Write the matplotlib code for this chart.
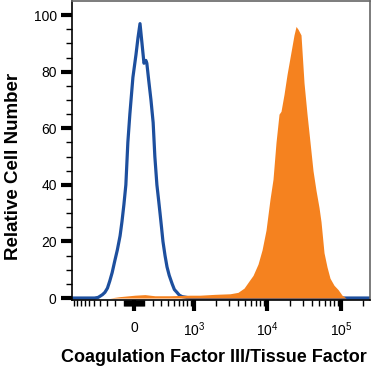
import numpy as np
import matplotlib
matplotlib.use("Agg")
import matplotlib.pyplot as plt

plt.rcParams['font.family'] = ['Liberation Sans', 'DejaVu Sans']
plt.rcParams['mathtext.fontset'] = 'custom'
plt.rcParams['mathtext.rm'] = 'Liberation Sans'

# isotype control (blue outline), intensity vs relative cell number
blue_x = [-1060, -490, -430, -400, -360, -325, -290, -260, -230, -200, -170, -140, -120,
          -100, -80, -60, -40, -10, 20, 40, 60, 80, 100, 120, 130, 150, 175, 200, 220,
          245, 265, 285, 305, 325, 355, 385, 420, 470, 510, 560, 610, 670, 880, 245000]
blue_y = [0, 0, 0.2, 0.6, 1.2, 2, 3.5, 6, 9, 13, 17, 22, 27,
          33, 40, 55, 65, 78, 86, 92, 97, 90, 83, 84, 83, 77, 70, 62, 50,
          40, 35, 30, 25, 20, 15, 11, 8, 5, 3, 2, 1, 0.5, 0, 0]

# stained sample (orange filled)
orange_x = [-260, -140, 10, 110, 220, 430, 880, 1210, 1950, 3130, 4010, 4850, 5660,
            6420, 7500, 8500, 9620, 10900, 11960, 13130, 14420, 15340, 16850, 18500,
            20950, 23000, 24500, 26080, 28600, 31430, 34500, 37890, 41580, 45670,
            50120, 53330, 58560, 64260, 70560, 79950, 90590, 102600, 116300]
orange_y = [0, 0.5, 1, 1.2, 0.8, 0.8, 1, 1, 1.3, 1.5, 2, 3.5, 6,
            8, 12, 17, 24, 35, 42, 55, 65, 66, 72, 79,
            87, 93, 96, 95, 93, 76, 65, 55, 45, 38,
            32, 27, 16, 11, 7, 4.5, 3, 1, 0]

x_major = [0, 1e3, 1e4, 1e5]
x_major_labels = ['0', r'$\mathregular{10^3}$', r'$\mathregular{10^4}$', r'$\mathregular{10^5}$']
y_major = [0, 20, 40, 60, 80, 100]

C = 315.0


def fwd(x):
    return np.arcsinh(np.asarray(x, dtype=float) / C)


def inv(u):
    return C * np.sinh(np.asarray(u, dtype=float))


fig = plt.figure(figsize=(3.72, 3.73), dpi=100)
ax = fig.add_axes([72 / 372, 1 - 300 / 373, 298 / 372, 299 / 373])
ax.set_xscale('function', functions=(fwd, inv))

ax.plot(blue_x, blue_y, color='#1d4f9e', lw=2.3, zorder=2)
ax.fill_between(orange_x, orange_y, 0, color='#f5821f', lw=0, zorder=3)

ax.set_xlim(-1060, 245000)
ax.set_ylim(-0.7, 105)

# x ticks: logicle-like
minor = list(range(-1000, -100, 100)) + list(range(-100, 101, 10)) + list(range(200, 1000, 100))
minor += [m * 1000 for m in range(2, 10)] + [m * 10000 for m in range(2, 10)] + [200000]
ax.set_xticks(x_major)
ax.set_xticklabels(x_major_labels)
ax.set_xticks(minor, minor=True)
ax.tick_params(axis='x', which='major', length=8, width=3, pad=7, labelsize=10, direction='out')
ax.tick_params(axis='x', which='minor', length=4, width=1, direction='out')

ax.set_yticks(y_major)
ax.set_yticks(np.arange(0, 105, 5), minor=True)
ax.tick_params(axis='y', which='major', length=8, width=3, pad=3, labelsize=10, direction='out')
ax.tick_params(axis='y', which='minor', length=4, width=1, direction='out')

for s in ['top', 'right']:
    ax.spines[s].set_color('#666666')
    ax.spines[s].set_linewidth(1.2)
for s in ['left', 'bottom']:
    ax.spines[s].set_color('black')
    ax.spines[s].set_linewidth(1.2)

fig.text(214 / 372, 1 - 357 / 373, 'Coagulation Factor III/Tissue Factor',
         ha='center', va='center', fontsize=13, fontweight='bold')
fig.text(14 / 372, 1 - 166 / 373, 'Relative Cell Number', rotation=90,
         ha='center', va='center', fontsize=13.5, fontweight='bold')

fig.savefig('out.png', dpi=100)
